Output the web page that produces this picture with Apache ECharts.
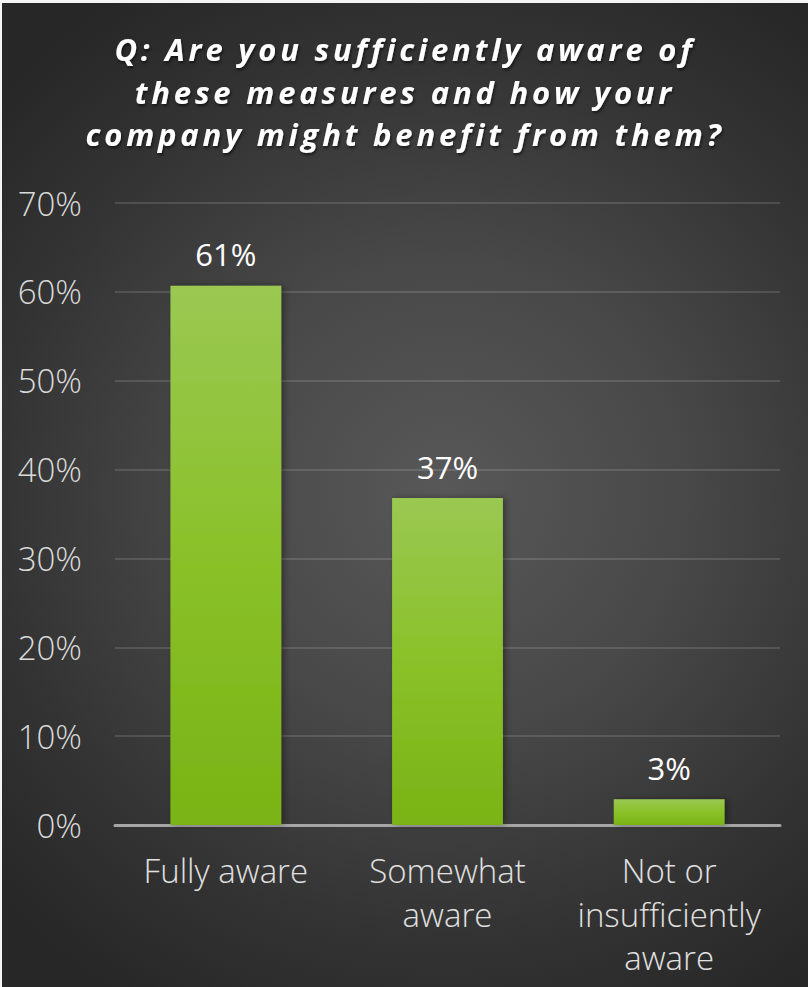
<!DOCTYPE html>
<html>
<head>
<meta charset="utf-8">
<script src="https://cdn.jsdelivr.net/npm/echarts@6/dist/echarts.min.js"></script>
<style>
html,body{margin:0;padding:0;background:#f4f4f4;}
#chart{position:absolute;left:2px;top:3px;width:806px;height:984px;
background:radial-gradient(ellipse 75% 60% at 55% 50%, #585858 0%, #484848 40%, #333333 75%, #272727 100%);}
#chart text[style*="italic"]{letter-spacing:3.8px;}
</style>
</head>
<body>
<div id="chart"></div>
<script>
var titleText = 'Q: Are you sufficiently aware of\nthese measures and how your\ncompany might benefit from them?';
var categories = ['Fully aware', 'Somewhat\naware', 'Not or\ninsufficiently\naware'];
var values = [60.7, 36.8, 2.9];
var labels = ['61%', '37%', '3%'];
var yTicks = [0, 10, 20, 30, 40, 50, 60, 70];

var chart = echarts.init(document.getElementById('chart'), null, { renderer: 'svg' });
chart.setOption({
  backgroundColor: 'transparent',
  title: {
    text: titleText,
    left: 'center',
    top: 20,
    textStyle: {
      color: '#ffffff',
      fontFamily: 'Open Sans',
      fontStyle: 'italic',
      fontWeight: 'bold',
      fontSize: 31,
      lineHeight: 42.5,
      textShadowColor: 'rgba(0,0,0,0.6)',
      textShadowBlur: 3,
      textShadowOffsetX: 1,
      textShadowOffsetY: 2
    }
  },
  grid: { left: 113, right: 28, top: 200, bottom: 162, containLabel: false },
  xAxis: {
    type: 'category',
    data: categories,
    axisTick: { show: false },
    axisLine: { lineStyle: { color: '#a6a6a6', width: 3 } },
    axisLabel: {
      color: '#e0e0e0',
      fontFamily: 'Open Sans',
      fontWeight: 300,
      fontSize: 33,
      lineHeight: 43.5,
      margin: 24,
      interval: 0
    }
  },
  yAxis: {
    type: 'value',
    min: 0, max: 70, interval: 10,
    axisLine: { show: false },
    axisTick: { show: false },
    splitLine: { lineStyle: { color: 'rgba(255,255,255,0.13)', width: 2 } },
    axisLabel: {
      color: '#dadada',
      fontFamily: 'Open Sans',
      fontWeight: 300,
      fontSize: 33,
      margin: 33,
      verticalAlign: 'middle',
      padding: [0, 0, 3, 0],
      formatter: function (v) { return yTicks.indexOf(v) >= 0 ? v + '%' : ''; }
    }
  },
  series: [{
    type: 'bar',
    data: values,
    barWidth: '50%',
    itemStyle: {
      color: new echarts.graphic.LinearGradient(0, 0, 0, 1, [
        { offset: 0, color: '#9ac852' },
        { offset: 0.5, color: '#8ac129' },
        { offset: 1, color: '#79b315' }
      ]),
      shadowColor: 'rgba(0,0,0,0.35)',
      shadowBlur: 6,
      shadowOffsetX: 3,
      shadowOffsetY: 0
    },
    label: {
      show: true,
      position: 'top',
      distance: 16,
      color: '#ffffff',
      fontFamily: 'Open Sans',
      fontSize: 31,
      formatter: function (p) { return labels[p.dataIndex]; }
    }
  }]
});
</script>
</body>
</html>
